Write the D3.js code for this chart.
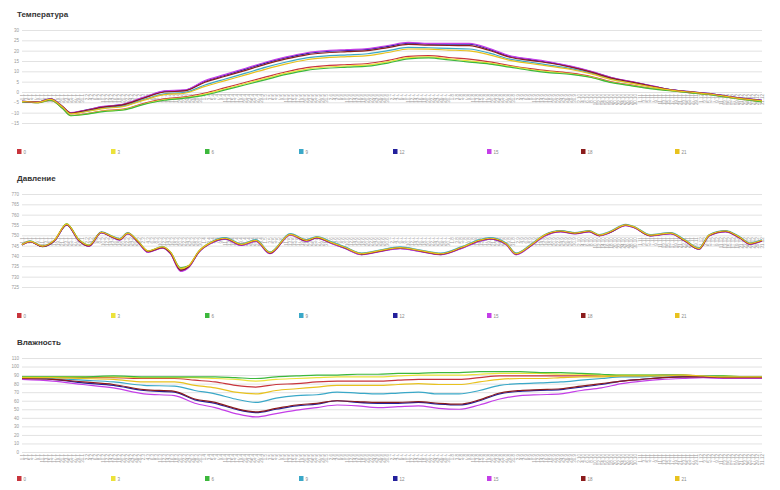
<!DOCTYPE html>
<html><head><meta charset="utf-8">
<script src="https://cdn.jsdelivr.net/npm/d3@7"></script>
<style>body{margin:0;background:#fff}svg{display:block;font-family:"Liberation Sans",Arial,sans-serif}</style>
</head><body><div id="c"></div>
<script>
// ---- categories / legend ----
const seriesNames = ["0","3","6","9","12","15","18","21"];
const seriesColors = ["#c8343c","#ece23a","#3cb83c","#3aa8c8","#23209c","#c43ee8","#8b1c1c","#e8c21e"];

// ---- temperature ----
const tempTicks = [30,25,20,15,10,5,0,-5,-10,-15];
const tDays = [0,8,14,20,24,30,40,50,60,70,80,90,100,110,120,130,140,150,160,170,180,190,200,210,220,230,240,250,260,270,280,290,300,310,320,330,340,350,364];
const t0  = [-4.8,-5.1,-3.9,-7.9,-11.3,-10.7,-9.1,-8.3,-5.5,-3.3,-2.4,-0.5,2.1,4.7,7.3,9.8,11.8,12.8,13.3,13.8,15.3,17.2,17.6,16.7,15.9,14.6,12.8,11.3,10.1,9.1,7.5,4.9,3.3,1.7,0.6,-0.4,-1.4,-2.9,-4.7];
const t3  = [-4.8,-5.2,-4,-7.9,-11.4,-10.9,-9.3,-8.5,-5.8,-3.7,-2.7,-1,1.5,4.1,6.6,9.1,11.1,12.1,12.6,13.1,14.6,16.6,17,16.1,15.1,14,12.4,10.9,9.7,8.8,7.2,4.7,3.1,1.6,0.5,-0.5,-1.5,-3,-4.7];
const t6  = [-4.8,-5.2,-4,-8,-11.5,-11,-9.5,-8.7,-6,-4,-3,-1.5,1,3.5,6,8.5,10.5,11.5,12,12.5,14,16,16.5,15.5,14.5,13.5,12,10.5,9.3,8.5,7,4.5,3,1.5,0.5,-0.5,-1.5,-3,-4.8];
const t9  = [-4.6,-4.9,-3.5,-7.3,-10.5,-9.6,-7.8,-6.7,-3.6,-0.9,-0.2,3.4,6.3,9.1,12,14.5,16.5,17.5,18,18.5,20,21.6,21.4,21.1,20.8,18.8,15.9,14.4,12.9,11.3,9.1,6.3,4.4,2.6,0.9,-0.2,-1.2,-2.7,-4.2];
const t12 = [-4.5,-4.8,-3.3,-7.1,-10.1,-9.1,-7.1,-6,-2.7,0.3,0.8,5.2,8.1,11.1,14.1,16.6,18.6,19.6,20.1,20.6,22.1,23.6,23.2,23.1,23.1,20.6,17.2,15.7,14.2,12.3,9.9,6.9,4.9,2.9,1,0,-1,-2.5,-4];
const t15 = [-4.5,-4.8,-3.3,-7,-10,-9,-7,-5.8,-2.5,0.5,1,5.5,8.5,11.5,14.5,17,19,20,20.5,21,22.5,24,23.5,23.5,23.5,21,17.5,16,14.5,12.5,10,7,5,3,1,0,-1,-2.5,-4];
const t18 = [-4.5,-4.9,-3.4,-7.1,-10.2,-9.2,-7.3,-6.1,-2.9,0,0.5,4.7,7.6,10.5,13.5,16,18,19,19.5,20,21.5,23,22.7,22.5,22.4,20.1,16.8,15.3,13.9,12,9.6,6.7,4.8,2.8,0.9,-0.1,-1.1,-2.6,-4.1];
const t21 = [-4.6,-5,-3.6,-7.4,-10.6,-9.8,-8,-7,-3.9,-1.3,-0.6,2.7,5.5,8.3,11.1,13.6,15.6,16.6,17.1,17.6,19.1,20.8,20.7,20.3,19.9,18,15.3,13.8,12.4,10.9,8.8,6,4.2,2.4,0.8,-0.2,-1.2,-2.7,-4.3];

// ---- pressure ----
const presTicks = [770,765,760,755,750,745,740,735,730,725];
const pDays = [0,4,10,16,22,28,33,39,44,48,52,57,62,69,73,78,82,87,93,100,108,115,122,132,140,145,152,159,167,176,186,196,206,216,225,230,238,243,250,257,265,272,279,284,289,297,301,309,319,326,333,338,346,353,358,364];
const p0  = [745.5,747,744.7,747.6,755.3,747.6,745,751.5,749.5,748,751,747,742.2,744.2,741.7,733.5,735,742.2,746.5,748.5,745.5,747.5,741.5,750.5,747.5,749,746.5,744,741,742.5,744,742.5,741,744,747.5,748.5,746,741,745,750,752,751,752,750,751.5,755,754,750,751,747.5,743.5,750,752,749,746,747.5];
const p3  = [745.7,747.2,744.9,747.8,755.6,748,745.3,751.6,749.7,748.2,751.2,747.3,742.5,744.4,742,734,735.4,742.4,746.7,748.6,745.7,747.7,741.8,750.6,747.7,749.2,746.7,744.2,741.3,742.7,744.2,742.7,741.2,744.2,747.6,748.6,746.2,741.3,745.2,750.1,752.1,751.2,752.2,750.2,751.6,755.1,754.2,750.2,751.2,747.7,743.8,750.1,752.1,749.2,746.2,747.6];
const p6  = [745.3,747.1,744.5,747.4,755.5,747.9,745.1,751.3,749.6,748.1,750.9,747.1,742.4,744.1,741.9,734.3,735.2,742.1,746.4,748.7,745.6,747.4,741.7,750.3,747.6,748.8,746.6,744.1,741.2,742.4,744.1,742.4,741.1,743.9,747.4,748.6,746.1,741.2,744.9,749.9,752.2,751.1,751.9,750.1,751.4,754.9,754.1,749.9,751.1,747.6,743.6,749.8,751.9,749.1,745.9,747.4];
const p9  = [745.6,747.3,744.8,747.5,755.1,747.8,745.2,751.7,749.8,748.4,751.3,747.2,742.3,744.5,741.8,733.8,735.1,742.3,746.8,748.9,745.9,747.9,741.9,750.8,747.9,749.4,747,744.4,741.4,742.9,744.4,742.9,741.4,744.4,747.9,748.9,746.4,741.4,745.4,750.3,752.3,751.3,752.3,750.3,751.8,755.3,754.3,750.3,751.3,747.9,743.9,750.3,752.3,749.3,746.3,747.8];
const p12 = [745.4,746.9,744.6,747.4,755,747.4,744.8,751.3,749.3,747.8,750.8,746.8,741.9,743.9,741.3,732.8,734.6,741.9,746.2,748.2,745.2,747.2,741.2,750.2,747.2,748.7,746.2,743.7,740.7,742.2,743.7,742.2,740.7,743.7,747.2,748.2,745.7,740.7,744.7,749.7,751.8,750.8,751.8,749.8,751.3,754.8,753.8,749.8,750.8,747.3,743.3,749.8,751.8,748.8,745.8,747.3];
const p15 = [745.3,746.8,744.5,747.3,755.1,747.3,744.7,751.2,749.2,747.7,750.7,746.7,741.8,743.8,741.1,732.6,734.4,741.8,746.1,748.1,745.1,747.1,741.1,750.1,747.1,748.6,746.1,743.6,740.6,742.1,743.6,742.1,740.6,743.6,747.1,748.1,745.6,740.6,744.6,749.6,751.7,750.7,751.7,749.7,751.2,754.7,753.7,749.7,750.7,747.2,743.2,749.7,751.7,748.7,745.7,747.2];
const p18 = [745.4,747,744.6,747.5,755.2,747.5,744.9,751.4,749.4,747.9,750.9,746.9,742.1,744.1,741.5,733.1,734.8,742,746.4,748.4,745.4,747.4,741.4,750.4,747.4,748.9,746.4,743.9,740.9,742.4,743.9,742.4,740.9,743.9,747.4,748.4,745.9,740.9,744.9,749.9,751.9,750.9,751.9,749.9,751.4,754.9,753.9,749.9,750.9,747.4,743.4,749.9,751.9,748.9,745.9,747.4];
const p21 = [745.5,747.1,744.8,747.7,755.4,747.8,745.2,751.5,749.6,748.2,751.1,747.2,742.4,744.4,742,733.9,735.3,742.3,746.6,748.6,745.6,747.6,741.7,750.5,747.6,749.1,746.6,744.1,741.1,742.6,744.1,742.6,741.1,744.1,747.6,748.6,746.1,741.1,745.1,750.1,752.1,751.1,752.1,750.1,751.6,755.1,754.1,750.1,751.1,747.6,743.6,750.1,752.1,749.1,746.1,747.6];

// ---- humidity ----
const humTicks = [110,100,90,80,70,60,50,40,30,20,10,0];
const hDays = [0,15,30,45,60,75,85,95,105,115,125,135,145,155,165,175,185,195,205,215,225,235,245,255,265,275,285,295,305,315,325,335,345,355,364];
const h0  = [87,87,87,87,86,86,84,82,78,76,79,80,82,83,83,83,84,85,85,85,87,89,89,89,89,89,89,89,89,90,90,89,88,88,88];
const h3  = [88,88,88,88,87,87,87,86,85,83,85,86,87,88,88,88,89,90,90,90,91,92,92,92,91,91,90,90,90,90,90,89,89,88,88];
const h6  = [88,88,88,89,88,88,88,88,87,86,88,89,90,90,91,91,92,92,93,93,94,94,94,93,93,92,91,90,90,90,90,89,89,88,88];
const h9  = [87,86,84,82,78,77,72,68,62,58,63,66,67,70,69,68,69,70,68,68,72,78,80,81,82,84,86,88,88,89,89,89,88,88,88];
const h12 = [86,85,81,78,72,70,61,57,50,46,50,54,56,60,58,57,57,58,56,55,60,68,71,72,73,76,79,83,85,87,88,88,87,87,87];
const h15 = [85,83,79,75,68,66,57,52,45,41,45,49,52,55,54,52,53,54,51,50,55,62,66,67,68,72,75,80,83,85,86,87,86,86,86];
const h18 = [86,85,82,79,73,71,62,58,51,47,51,55,57,60,59,58,58,59,57,56,61,69,72,73,74,77,80,83,85,87,88,88,87,87,87];
const h21 = [87,87,86,85,82,82,78,75,70,68,72,74,76,78,78,78,79,80,79,79,82,85,86,86,87,88,88,89,89,89,90,89,88,88,88];

// ---- x tick labels (every second day of the year) ----
const yearStart = new Date(2013,0,1);
const tickDates = d3.timeDay.range(yearStart, new Date(2014,0,1), 2);
const fmt = d3.timeFormat("%-d.%-m");
const tickLabels = tickDates.map(fmt);
const tickDays = tickDates.map(d => d3.timeDay.count(yearStart, d));

const panels = [
  {title:"Температура", titleY:17, ticks:tempTicks, dom:[-15,30], rng:[123,30], base:0, legendY:149, days:tDays, series:[t0,t3,t6,t9,t12,t15,t18,t21]},
  {title:"Давление", titleY:181, ticks:presTicks, dom:[725,770], rng:[287,194], base:750, legendY:313, days:pDays, series:[p0,p3,p6,p9,p12,p15,p18,p21]},
  {title:"Влажность", titleY:345, ticks:humTicks, dom:[0,110], rng:[452,358], base:0, legendY:476, days:hDays, series:[h0,h3,h6,h9,h12,h15,h18,h21]}
];

const W=780,H=490, L=22, R=762;
const svg = d3.select("#c").append("svg").attr("width",W).attr("height",H);
const x = d3.scaleLinear().domain([0,364]).range([L,R]);

panels.forEach(p => {
  const y = d3.scaleLinear().domain(p.dom).range(p.rng);
  const g = svg.append("g");
  g.append("text").attr("x",17).attr("y",p.titleY).attr("font-size",8).attr("font-weight","bold").attr("fill","#333").text(p.title);
  // grid + y labels
  const ga = g.append("g").attr("transform",`translate(${L},0)`)
    .call(d3.axisLeft(y).tickValues(p.ticks).tickSize(-(R-L)).tickPadding(3).tickFormat(d3.format("d")));
  ga.select(".domain").remove();
  ga.selectAll(".tick line").attr("stroke","#e2e2e2");
  ga.selectAll(".tick text").attr("font-size",4.5).attr("fill","#999").attr("font-family","Liberation Sans, Arial, sans-serif");
  // x date labels hanging from baseline
  g.append("g").selectAll("text").data(tickDays).join("text")
    .attr("transform",(d)=>`translate(${x(d)+1.5},${y(p.base)+2}) rotate(-90)`)
    .attr("text-anchor","end").attr("font-size",4.5).attr("fill","#999")
    .text((d,i)=>tickLabels[i]);
  // lines
  const line = d3.line().x((d,i)=>x(p.days[i])).y(d=>y(d)).curve(d3.curveMonotoneX);
  p.series.forEach((s,k)=>{
    g.append("path").datum(s).attr("d",line).attr("fill","none")
      .attr("stroke",seriesColors[k]).attr("stroke-width",1.2).attr("stroke-linejoin","round");
  });
  // legend
  const lg = g.append("g").selectAll("g").data(seriesNames).join("g")
    .attr("transform",(d,i)=>`translate(${17+i*94},${p.legendY})`);
  lg.append("rect").attr("width",4.5).attr("height",5).attr("fill",(d,i)=>seriesColors[i]);
  lg.append("text").attr("x",6.5).attr("y",4.5).attr("font-size",4.5).attr("fill","#888").text(d=>d);
});
</script></body></html>
